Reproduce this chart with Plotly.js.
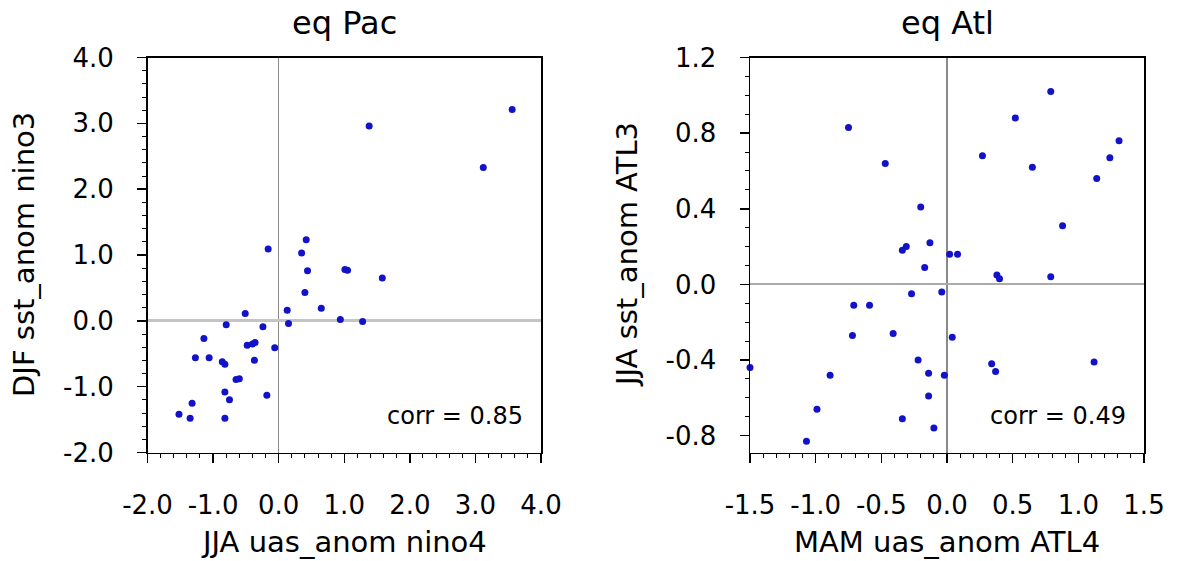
<!DOCTYPE html>
<html><head><meta charset="utf-8">
<script src="https://cdn.plot.ly/plotly-3.0.1.min.js"></script>
<style>html,body{margin:0;padding:0;background:#fff;} #chart{width:1178px;height:561px;}</style>
</head><body><div id="chart"></div>
<script>
// Panel 1: eq Pac
const pacX = [3.56, 1.38, 3.12, 0.42, -0.16, 0.35, 0.44, 1.01, 1.05, 1.58, 0.40, 0.13, 0.65, -0.51, -0.80, -0.24, 0.15, 0.94, 1.28, -1.14, -0.48, -0.40, -0.36, -0.06, -1.27, -1.06, -0.86, -0.82, -0.37, -0.65, -0.60, -0.82, -0.75, -0.18, -1.32, -1.52, -1.35, -0.82];
const pacY = [3.21, 2.96, 2.33, 1.23, 1.09, 1.03, 0.76, 0.78, 0.77, 0.65, 0.43, 0.16, 0.19, 0.11, -0.06, -0.09, -0.04, 0.02, -0.01, -0.27, -0.37, -0.35, -0.33, -0.41, -0.56, -0.56, -0.62, -0.66, -0.60, -0.89, -0.88, -1.08, -1.20, -1.13, -1.25, -1.42, -1.48, -1.48];
// Panel 2: eq Atl
const atlX = [0.79, 0.52, -0.75, 1.31, 1.24, 0.27, 0.65, -0.47, 1.14, -0.20, 0.88, -0.34, -0.31, -0.13, 0.02, 0.08, -0.17, 0.38, 0.40, 0.79, -0.27, -0.04, -0.71, -0.59, -0.72, -0.41, 0.04, -0.22, 0.34, 0.37, 1.12, -1.50, -0.89, -0.14, -0.02, -0.14, -0.99, -0.34, -0.10, -1.07];
const atlY = [1.02, 0.88, 0.83, 0.76, 0.67, 0.68, 0.62, 0.64, 0.56, 0.41, 0.31, 0.18, 0.20, 0.22, 0.16, 0.16, 0.09, 0.05, 0.03, 0.04, -0.05, -0.04, -0.11, -0.11, -0.27, -0.26, -0.28, -0.40, -0.42, -0.46, -0.41, -0.44, -0.48, -0.47, -0.48, -0.59, -0.66, -0.71, -0.76, -0.83];

const pacXTicks = [-2, -1, 0, 1, 2, 3, 4];
const pacYTicks = [-2, -1, 0, 1, 2, 3, 4];
const atlXTicks = [-1.5, -1.0, -0.5, 0, 0.5, 1.0, 1.5];
const atlYTicks = [-0.8, -0.4, 0, 0.4, 0.8, 1.2];

const titles = ["eq Pac", "eq Atl"];
const xTitles = ["JJA uas_anom nino4", "MAM uas_anom ATL4"];
const yTitles = ["DJF sst_anom nino3", "JJA sst_anom ATL3"];
const corrText = ["corr = 0.85", "corr = 0.49"];

const FONT = "DejaVu Sans, Liberation Sans, Arial, sans-serif";
const W = 1178, H = 561;
const dotColor = '#1212c8';

const traces = [
  {x: pacX, y: pacY, xaxis: 'x', yaxis: 'y', type: 'scatter', mode: 'markers',
   marker: {color: dotColor, size: 7, line: {width: 0}}, cliponaxis: false, hoverinfo: 'x+y'},
  {x: atlX, y: atlY, xaxis: 'x2', yaxis: 'y2', type: 'scatter', mode: 'markers',
   marker: {color: dotColor, size: 7, line: {width: 0}}, cliponaxis: false, hoverinfo: 'x+y'}
];

const yDom = [1 - 452.5 / H, 1 - 57.5 / H];
function ax(domain, range, ticks, minorStep, zc, zw, anchor, isX) {
  return {
    domain: domain, range: range, anchor: anchor,
    tickmode: 'array', tickvals: ticks, ticktext: ticks.map(v => v.toFixed(1)),
    ticks: 'outside', ticklen: 9, tickwidth: 1.5, tickcolor: '#000',
    ticklabelstandoff: isX ? 20 : 18,
    minor: {dtick: minorStep, tick0: 0, ticks: 'outside', ticklen: 4, tickwidth: 1, tickcolor: '#000', showgrid: false},
    showline: true, linecolor: '#000', linewidth: 1.5, mirror: true,
    showgrid: false, zeroline: true, zerolinecolor: zc, zerolinewidth: zw,
    tickfont: {family: FONT, size: 26, color: '#000'}, fixedrange: true
  };
}
// mirrored tick-only axes (top / right) so major and minor ticks appear on all four sides
function mirrorAx(base, over, side, anchor) {
  return {
    overlaying: over, side: side, anchor: anchor, range: base.range,
    tickmode: 'array', tickvals: base.tickvals, showticklabels: false,
    ticks: 'outside', ticklen: 9, tickwidth: 1.5, tickcolor: '#000',
    minor: base.minor, showline: false, showgrid: false, zeroline: false, fixedrange: true
  };
}

const layout = {
  width: W, height: H, margin: {l: 0, r: 0, t: 0, b: 0},
  paper_bgcolor: '#fff', plot_bgcolor: '#fff', showlegend: false,
  xaxis: ax([147.5 / W, 541 / W], [-2, 4], pacXTicks, 0.2, '#8a8a8a', 1.2, 'y', true),
  yaxis: ax(yDom, [-2, 4], pacYTicks, 0.2, '#c4c4c4', 3, 'x', false),
  xaxis2: ax([750 / W, 1144 / W], [-1.5, 1.5], atlXTicks, 0.1, '#8a8a8a', 1.2, 'y2', true),
  yaxis2: ax(yDom, [-0.889, 1.2], atlYTicks, 0.1, '#ababab', 2, 'x2', false),
  annotations: []
};
layout.xaxis3 = mirrorAx(layout.xaxis, 'x', 'top', 'y');
layout.yaxis3 = mirrorAx(layout.yaxis, 'y', 'right', 'x');
layout.xaxis4 = mirrorAx(layout.xaxis2, 'x2', 'top', 'y2');
layout.yaxis4 = mirrorAx(layout.yaxis2, 'y2', 'right', 'x2');

const panels = [{xr: 'x', yr: 'y', yl: 24}, {xr: 'x2', yr: 'y2', yl: 627}];
panels.forEach((p, i) => {
  layout.annotations.push({text: titles[i], xref: p.xr + ' domain', yref: 'paper', x: 0.5, y: 1 - 23 / H,
    xanchor: 'center', yanchor: 'middle', showarrow: false, font: {family: FONT, size: 32, color: '#000'}});
  layout.annotations.push({text: xTitles[i], xref: p.xr + ' domain', yref: 'paper', x: 0.5, y: 1 - 542 / H,
    xanchor: 'center', yanchor: 'middle', showarrow: false, font: {family: FONT, size: 29, color: '#000'}});
  layout.annotations.push({text: yTitles[i], xref: 'paper', yref: p.yr + ' domain', x: p.yl / W, y: 0.5,
    xanchor: 'center', yanchor: 'middle', textangle: -90, showarrow: false, font: {family: FONT, size: 29, color: '#000'}});
  layout.annotations.push({text: corrText[i], xref: p.xr + ' domain', yref: p.yr + ' domain', x: 1, y: (452.5 - 416) / 395,
    xanchor: 'right', yanchor: 'middle', xshift: -16, showarrow: false, font: {family: FONT, size: 24, color: '#000'}});
});

Plotly.newPlot('chart', traces, layout, {staticPlot: true});
</script></body></html>
